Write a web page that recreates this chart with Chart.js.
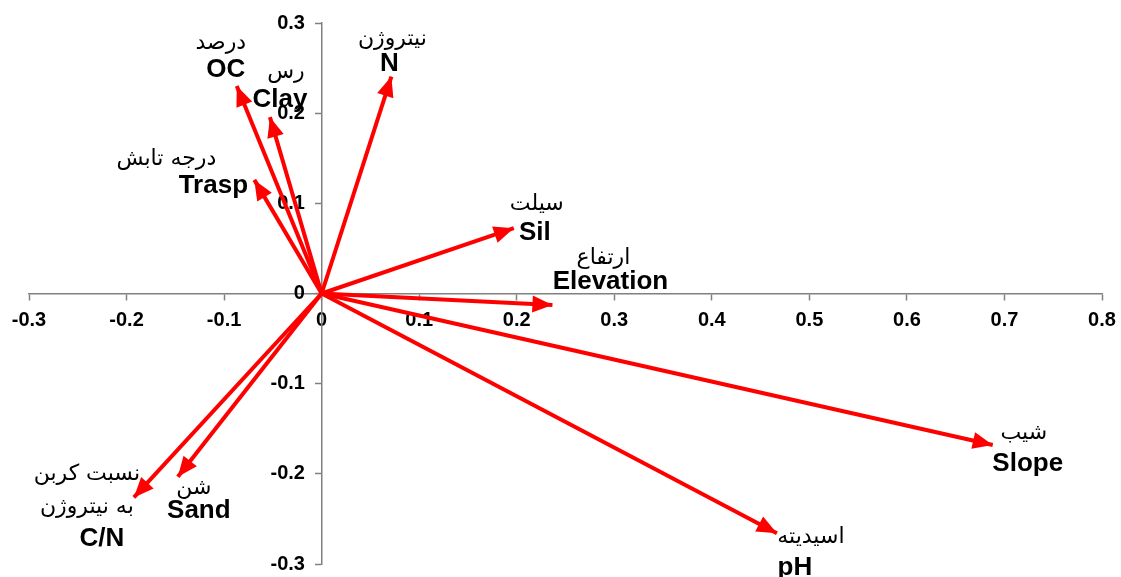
<!DOCTYPE html>
<html>
<head>
<meta charset="utf-8">
<script src="https://cdn.jsdelivr.net/npm/chart.js@4.4.1/dist/chart.umd.min.js"></script>
<style>
  html, body { margin: 0; padding: 0; background: #fff; }
  #wrap { width: 1121px; height: 577px; position: relative; }
</style>
</head>
<body>
<div id="wrap"><canvas id="c"></canvas></div>
<script>
// ---- data ----
const variables = ['OC', 'Clay', 'N', 'Trasp', 'Sil', 'Elevation', 'Slope', 'pH', 'Sand', 'C/N'];
const persianNames = ['درصد', 'رس', 'نیتروژن', 'درجه تابش', 'سیلت', 'ارتفاع', 'شیب', 'اسیدیته', 'شن', 'نسبت کربن\nبه نیتروژن'];
const loadingX = [-0.087, -0.053, 0.0715, -0.069, 0.197, 0.2366, 0.688, 0.4667, -0.1474, -0.1925];
const loadingY = [0.230, 0.1956, 0.2406, 0.126, 0.0724, -0.0128, -0.168, -0.266, -0.2033, -0.2262];
const xTicks = [-0.3, -0.2, -0.1, 0, 0.1, 0.2, 0.3, 0.4, 0.5, 0.6, 0.7, 0.8];
const yTicks = [-0.3, -0.2, -0.1, 0, 0.1, 0.2, 0.3];

// ---- label placement (pixel offsets from arrow tip: [persianDx, persianDy, englishDx, englishDy]) ----
const labelOffsets = {
  'OC': [-16, -43, -11, -16],
  'Clay': [16, -45, 10, -17],
  'N': [1, -37, -2, -13],
  'Trasp': [-88, -21, -41, 6],
  'Sil': [23, -24, 21, 5],
  'Elevation': [51, -47, 58, -23],
  'Slope': [31, -12, 35, 19],
  'pH': [34, 4, 18, 34],
  'Sand': [16, 11, 21, 34],
  'C/N': [-47, -23, -32, 41]
};

const RED = '#ff0000';
const AXIS = '#808080';

const datasets = variables.map((v, i) => ({
  label: v,
  data: [{x: 0, y: 0}, {x: loadingX[i], y: loadingY[i]}],
  showLine: true,
  borderColor: RED,
  backgroundColor: RED,
  borderWidth: 4,
  pointRadius: 0,
  pointHoverRadius: 0,
  borderCapStyle: 'butt'
}));

const arrowPlugin = {
  id: 'arrows',
  afterDatasetsDraw(chart) {
    const ctx = chart.ctx;
    chart.data.datasets.forEach((ds, i) => {
      const meta = chart.getDatasetMeta(i);
      const p0 = meta.data[0], p1 = meta.data[1];
      const ang = Math.atan2(p1.y - p0.y, p1.x - p0.x);
      const L = 20, W = 8.5;
      ctx.save();
      ctx.translate(p1.x, p1.y);
      ctx.rotate(ang);
      ctx.beginPath();
      ctx.moveTo(0, 0);
      ctx.lineTo(-L, -W);
      ctx.lineTo(-L, W);
      ctx.closePath();
      ctx.fillStyle = RED;
      ctx.fill();
      ctx.restore();

      const off = labelOffsets[ds.label];
      ctx.save();
      ctx.textAlign = 'center';
      ctx.textBaseline = 'middle';
      ctx.fillStyle = '#000';
      ctx.font = '22px "DejaVu Sans", sans-serif';
      const lines = persianNames[i].split('\n');
      lines.forEach((t, k) => {
        ctx.fillText(t, p1.x + off[0], p1.y + off[1] + k * 33);
      });
      ctx.font = 'bold 26px "Liberation Sans", Arial, sans-serif';
      ctx.fillText(ds.label, p1.x + off[2], p1.y + off[3]);
      ctx.restore();
    });
  }
};

const tickFont = { family: '"Liberation Sans", Arial, sans-serif', size: 20, weight: 'bold' };
const noPad = scale => { scale.paddingTop = 0; scale.paddingBottom = 0; scale.paddingLeft = 0; scale.paddingRight = 0; };

new Chart(document.getElementById('c'), {
  type: 'scatter',
  data: { datasets },
  options: {
    responsive: true,
    maintainAspectRatio: false,
    animation: false,
    events: [],
    layout: { padding: { left: 29, right: 19, top: 23, bottom: 13 } },
    plugins: { legend: { display: false }, tooltip: { enabled: false } },
    scales: {
      x: {
        type: 'linear',
        position: { y: 0 },
        min: -0.3, max: 0.8,
        afterBuildTicks(scale) { scale.ticks = xTicks.map(v => ({ value: v })); },
        afterFit: noPad,
        grid: { drawOnChartArea: false, drawTicks: true, tickLength: 6, color: AXIS, tickWidth: 1.5 },
        border: { display: true, color: AXIS, width: 1.5 },
        ticks: {
          color: '#000', font: tickFont, padding: 9, maxRotation: 0, autoSkip: false,
          callback: v => String(Math.round(v * 10) / 10)
        }
      },
      y: {
        type: 'linear',
        position: { x: 0 },
        min: -0.3, max: 0.3,
        afterBuildTicks(scale) { scale.ticks = yTicks.map(v => ({ value: v })); },
        afterFit: noPad,
        grid: { drawOnChartArea: false, drawTicks: true, tickLength: 6, color: AXIS, tickWidth: 1.5 },
        border: { display: true, color: AXIS, width: 1.5 },
        ticks: {
          color: '#000', font: tickFont, padding: 0, autoSkip: false,
          callback: v => String(Math.round(v * 10) / 10) + '\u00a0\u00a0\u00a0'
        }
      }
    }
  },
  plugins: [arrowPlugin]
});
</script>
</body>
</html>
